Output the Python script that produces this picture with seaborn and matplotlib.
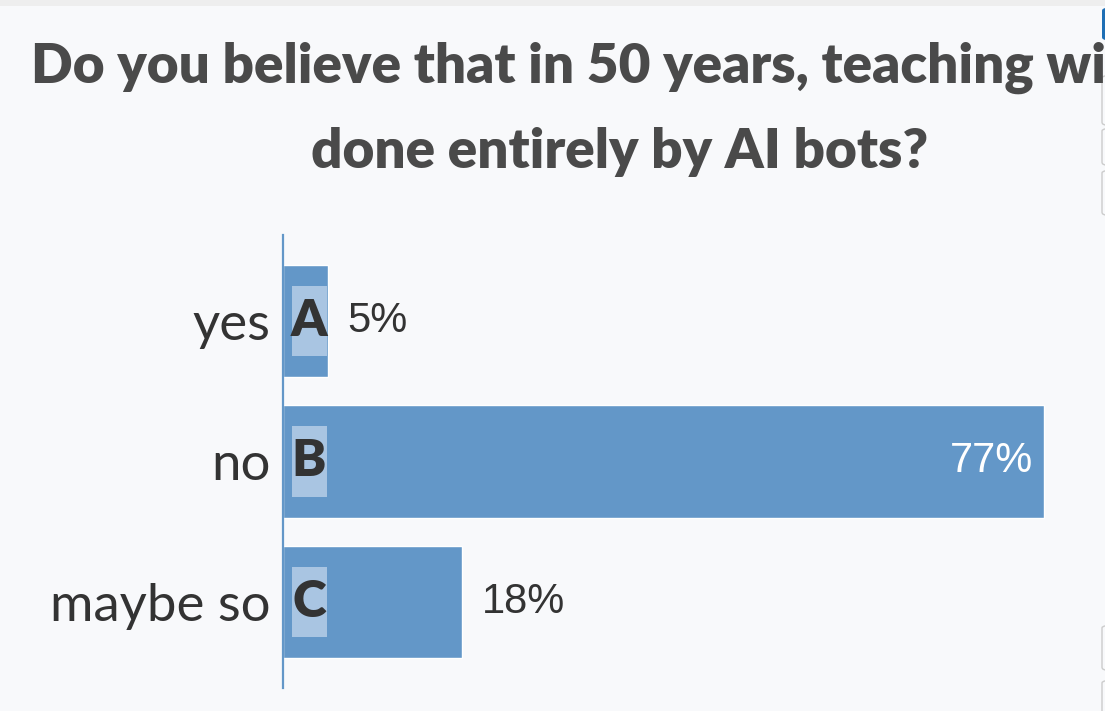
import matplotlib
matplotlib.use("Agg")
import matplotlib.pyplot as plt
import matplotlib.transforms as mtransforms
from matplotlib.patches import Rectangle, FancyBboxPatch
import pandas as pd
import seaborn as sns

# poll data (22 responses)
answers = ["yes", "no", "maybe so"]
letters = ["A", "B", "C"]
counts = [1, 17, 4]
title_lines = ["Do you believe that in 50 years, teaching will be",
               "done entirely by AI bots?"]

total = sum(counts)
pct = [100 * c / total for c in counts]
df = pd.DataFrame({"answer": answers, "pct": pct})

BG = "#f8f9fb"
BAR = "#6397c8"
BADGE = "#a9c5e2"
DARK = "#333333"

sns.set_theme(style="white")
plt.rcParams["font.family"] = ["Lato", "DejaVu Sans"]

W, H = 1105, 711
fig = plt.figure(figsize=(W / 100, H / 100), dpi=100, facecolor=BG)

# axes from x=283px to right edge, y from 235px to 688px
ax_w = W - 283
ax = fig.add_axes([283 / W, 1 - 688 / H, ax_w / W, (688 - 235) / H])
ax.set_facecolor(BG)

sns.barplot(data=df, y="answer", x="pct", orient="h", color=BAR,
            saturation=1, width=0.8, ax=ax)

px_per_pct = 9.85
ax.set_xlim(0, ax_w / px_per_pct)
ax.set_ylim(2.61, -0.61)
ax.set_xlabel("")
ax.set_ylabel("")
ax.set_xticks([])
for s in ["top", "right", "bottom"]:
    ax.spines[s].set_visible(False)
ax.spines["left"].set_color(BAR)
ax.spines["left"].set_linewidth(1.6)
ax.tick_params(axis="y", length=0, pad=9, labelsize=38, labelcolor=DARK)

# letter badges
ytrans = ax.get_yaxis_transform()
for i, letter in enumerate(letters):
    ax.add_patch(Rectangle((9 / ax_w, i - 0.25), 35 / ax_w, 0.5,
                           transform=ytrans, facecolor=BADGE, edgecolor="none", zorder=3))
    ax.text(26 / ax_w, i, letter, transform=ytrans, ha="center", va="center",
            fontsize=37, fontweight="heavy", color=DARK, zorder=4)

# percent labels
for i, p in enumerate(pct):
    label = f"{p:.0f}%"
    if p > 50:
        off = mtransforms.offset_copy(ax.transData, fig=fig, x=-11, y=0, units="dots")
        ax.text(p, i, label, transform=off, ha="right", va="center",
                fontsize=30, color="white", family="Liberation Sans")
    else:
        off = mtransforms.offset_copy(ax.transData, fig=fig, x=20, y=0, units="dots")
        ax.text(p, i, label, transform=off, ha="left", va="center",
                fontsize=30, color=DARK, family="Liberation Sans")

# title (first line runs past the right edge, as in the screenshot)
for line, base in zip(title_lines, [83, 168]):
    fig.text(620 / W, 1 - base / H, line, ha="center", va="baseline", fontsize=39.5,
             fontweight="heavy", color="#4a4a4a")

# screenshot chrome
fig.patches.append(Rectangle((0, 1 - 6 / H), 1, 6 / H, transform=fig.transFigure,
                             facecolor="#eeeeee", edgecolor="none"))
fig.patches.append(FancyBboxPatch((1102 / W, 1 - 40 / H), 10 / W, 32 / H,
                                  boxstyle="round,pad=0,rounding_size=0.004",
                                  transform=fig.transFigure, facecolor="#1f6fb5",
                                  edgecolor="none"))
for y0, y1 in [(75, 125), (128, 165), (170, 215), (625, 670), (680, 720)]:
    fig.patches.append(FancyBboxPatch((1102 / W, 1 - y1 / H), 20 / W, (y1 - y0) / H,
                                      boxstyle="round,pad=0,rounding_size=0.004",
                                      transform=fig.transFigure, facecolor="none",
                                      edgecolor="#cccccc", linewidth=1))

fig.savefig("out.png", dpi=100, facecolor=BG)
